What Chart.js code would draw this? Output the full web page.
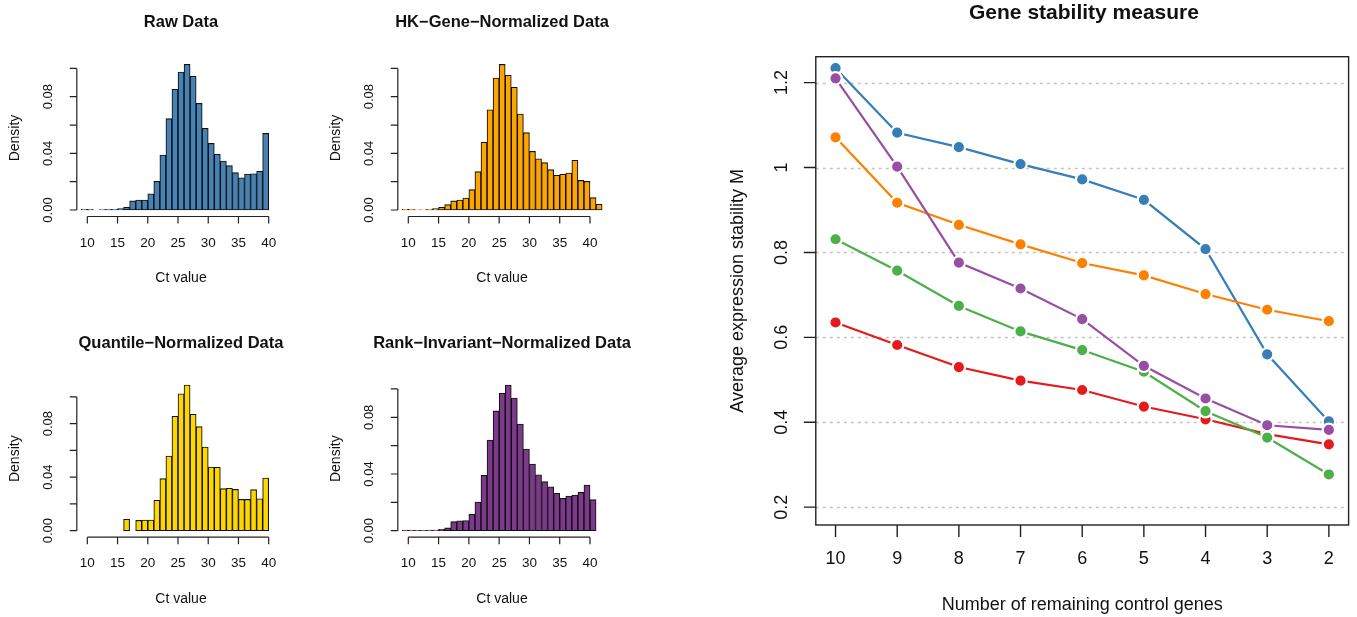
<!DOCTYPE html>
<html>
<head>
<meta charset="utf-8">
<script src="https://cdn.jsdelivr.net/npm/chart.js@4.4.0/dist/chart.umd.min.js"></script>
<style>
  body { margin: 0; background: #fff; }
  #wrap { position: relative; width: 1357px; height: 617px; }
  #wrap canvas { position: absolute; left: 0; top: 0; }
</style>
</head>
<body>
<div id="wrap">
  <canvas id="raw" width="1357" height="617"></canvas>
  <canvas id="hk" width="1357" height="617"></canvas>
  <canvas id="quant" width="1357" height="617"></canvas>
  <canvas id="rank" width="1357" height="617"></canvas>
  <canvas id="stab" width="1357" height="617"></canvas>
</div>
<script>
// histogram data, one bin per Ct unit, first value = bin starting at *Start
const rawStart = 9;
const rawDensity = [0.0005, 0.0005, 0, 0.0003, 0.0005, 0.0005, 0.001, 0.002, 0.0064, 0.007,
  0.007, 0.0115, 0.0202, 0.0388, 0.0645, 0.0852, 0.0974, 0.1028, 0.0944, 0.0753,
  0.0576, 0.047, 0.0393, 0.0346, 0.0313, 0.0264, 0.0228, 0.0254, 0.0256, 0.0273, 0.0541];

const hkStart = 9;
const hkDensity = [0.0005, 0.0005, 0.0002, 0.0002, 0.0005, 0.001, 0.002, 0.0038, 0.0064, 0.007,
  0.0085, 0.0144, 0.0271, 0.0478, 0.0708, 0.0932, 0.1028, 0.0951, 0.0866, 0.0678,
  0.0546, 0.0414, 0.0362, 0.0334, 0.0285, 0.0245, 0.0252, 0.0261, 0.0351, 0.0209,
  0.0202, 0.0087, 0.004];

const quantStart = 16;
const quantDensity = [0.0085, 0, 0.0077, 0.008, 0.008, 0.0227, 0.0389, 0.0558, 0.0855, 0.1024,
  0.1089, 0.087, 0.0778, 0.0626, 0.0476, 0.0474, 0.0314, 0.0317, 0.0309, 0.0234,
  0.0234, 0.0307, 0.0239, 0.0394];

const rankStart = 9;
const rankDensity = [0.0005, 0.0005, 0.0002, 0.0002, 0.0005, 0.0005, 0.001, 0.002, 0.0064, 0.007,
  0.0072, 0.0115, 0.0202, 0.039, 0.064, 0.0845, 0.097, 0.1028, 0.0936, 0.0753,
  0.0576, 0.047, 0.0395, 0.0346, 0.031, 0.0264, 0.0228, 0.0245, 0.0252, 0.027,
  0.0322, 0.0219];

const ctTicks = [10, 15, 20, 25, 30, 35, 40];
const densityTicks = [0, 0.02, 0.04, 0.06, 0.08, 0.1];
const densityLabels = ["0.00", "", "0.04", "", "0.08", ""];

// gene stability measure
const remainingGenes = [10, 9, 8, 7, 6, 5, 4, 3, 2];
const stabBlue = [1.234, 1.082, 1.048, 1.008, 0.972, 0.924, 0.808, 0.560, 0.402];
const stabOrange = [1.071, 0.917, 0.865, 0.819, 0.775, 0.746, 0.702, 0.665, 0.638];
const stabPurple = [1.210, 1.002, 0.776, 0.715, 0.643, 0.533, 0.456, 0.393, 0.382];
const stabGreen = [0.831, 0.757, 0.674, 0.614, 0.570, 0.519, 0.426, 0.364, 0.277];
const stabRed = [0.635, 0.582, 0.530, 0.498, 0.476, 0.437, 0.407, 0.372, 0.348];
const stabTicks = [0.2, 0.4, 0.6, 0.8, 1, 1.2];
const stabTickLabels = ["0.2", "0.4", "0.6", "0.8", "1", "1.2"];

const W = 1357, H = 617;
const FONT = '"Liberation Sans", Arial, Helvetica, sans-serif';
Chart.defaults.font.family = FONT;

// R style axes for the histograms
const histAxes = {
  id: "histAxes",
  afterDraw(chart, args, o) {
    const ctx = chart.ctx;
    const xs = chart.scales.x, ys = chart.scales.y;
    const x10 = xs.getPixelForValue(10), x40 = xs.getPixelForValue(40);
    const y0 = ys.getPixelForValue(0);
    const ax = x10 - 10.5;
    const ay = y0 + 6.5;
    const cx = x10 + 93.7;
    ctx.save();
    ctx.strokeStyle = "#222";
    ctx.fillStyle = "#111";
    ctx.lineWidth = 1.2;
    // y axis
    ctx.beginPath();
    ctx.moveTo(ax, y0);
    ctx.lineTo(ax, ys.getPixelForValue(densityTicks[densityTicks.length - 1]));
    densityTicks.forEach((t) => {
      const y = ys.getPixelForValue(t);
      ctx.moveTo(ax, y);
      ctx.lineTo(ax - 7, y);
    });
    // x axis
    ctx.moveTo(x10, ay);
    ctx.lineTo(x40, ay);
    ctTicks.forEach((t) => {
      const x = xs.getPixelForValue(t);
      ctx.moveTo(x, ay);
      ctx.lineTo(x, ay + 7);
    });
    ctx.stroke();

    ctx.font = "13.5px " + FONT;
    ctx.textAlign = "center";
    ctx.textBaseline = "middle";
    ctTicks.forEach((t) => {
      ctx.fillText(String(t), xs.getPixelForValue(t), ay + 26.5);
    });
    ctx.font = "13px " + FONT;
    densityTicks.forEach((t, i) => {
      if (!densityLabels[i]) return;
      ctx.save();
      ctx.translate(ax - 28, ys.getPixelForValue(t));
      ctx.rotate(-Math.PI / 2);
      ctx.fillText(densityLabels[i], 0, 0);
      ctx.restore();
    });

    ctx.font = "14px " + FONT;
    ctx.fillText("Ct value", cx, y0 + 68);
    ctx.save();
    ctx.translate(ax - 62, y0 - 72);
    ctx.rotate(-Math.PI / 2);
    ctx.fillText("Density", 0, 0);
    ctx.restore();

    ctx.font = "bold 16.5px " + FONT;
    ctx.fillText(o.title, cx, y0 - 187.5);
    ctx.restore();
  },
};

function histogram(id, start, density, color, title, px10, px40, py0, py08) {
  const u = (px40 - px10) / 30;
  const k = (py0 - py08) / 0.08;
  const xMin = 8, xMax = 43, yMax = 0.12;
  const left = px10 - (10 - xMin) * u;
  const right = px40 + (xMax - 40) * u;
  const top = py0 - yMax * k;
  return new Chart(document.getElementById(id), {
    type: "bar",
    data: {
      datasets: [
        {
          data: density.map((d, i) => ({ x: start + i + 0.5, y: d })),
          backgroundColor: color,
          borderColor: "#111",
          borderWidth: 1.1,
          borderSkipped: false,
          barPercentage: 1,
          categoryPercentage: 1,
          clip: false,
        },
      ],
    },
    options: {
      responsive: false,
      animation: false,
      events: [],
      layout: { padding: { left: left, right: W - right, top: top, bottom: H - py0 } },
      plugins: { legend: { display: false }, tooltip: { enabled: false }, histAxes: { title: title } },
      scales: {
        x: { type: "linear", min: xMin, max: xMax, offset: false, display: false },
        y: { min: 0, max: yMax, display: false },
      },
    },
    plugins: [histAxes],
  });
}

histogram("raw", rawStart, rawDensity, "#4682B4", "Raw Data", 87.3, 268.7, 210, 96.7);
histogram("hk", hkStart, hkDensity, "#FFA500", "HK\u2212Gene\u2212Normalized Data", 408.3, 590, 210, 96.7);
histogram("quant", quantStart, quantDensity, "#FFD700", "Quantile\u2212Normalized Data", 87.3, 268.7, 530.7, 423.7);
histogram("rank", rankStart, rankDensity, "#7D3A8C", "Rank\u2212Invariant\u2212Normalized Data", 408.3, 590, 530.7, 417.3);

// gene stability panel
const stabBox = { left: 815.8, right: 1354, top: 56.7, bottom: 525 };

const stabAxes = {
  id: "stabAxes",
  beforeDatasetsDraw(chart) {
    const ctx = chart.ctx, a = chart.chartArea, ys = chart.scales.y;
    ctx.save();
    ctx.strokeStyle = "#c4c4c4";
    ctx.lineWidth = 1.3;
    ctx.setLineDash([3, 4]);
    stabTicks.forEach((t) => {
      const y = Math.round(ys.getPixelForValue(t)) + 0.5;
      ctx.beginPath();
      ctx.moveTo(a.left, y);
      ctx.lineTo(a.right, y);
      ctx.stroke();
    });
    ctx.restore();
  },
  afterDraw(chart) {
    const ctx = chart.ctx, a = chart.chartArea;
    const xs = chart.scales.x, ys = chart.scales.y;
    ctx.save();
    ctx.strokeStyle = "#222";
    ctx.fillStyle = "#111";
    ctx.lineWidth = 1.4;
    ctx.strokeRect(a.left, a.top, a.right - a.left, a.bottom - a.top);
    ctx.beginPath();
    stabTicks.forEach((t) => {
      const y = ys.getPixelForValue(t);
      ctx.moveTo(a.left, y);
      ctx.lineTo(a.left - 12, y);
    });
    remainingGenes.forEach((g) => {
      const x = xs.getPixelForValue(g);
      ctx.moveTo(x, a.bottom);
      ctx.lineTo(x, a.bottom + 12);
    });
    ctx.stroke();

    ctx.font = "18px " + FONT;
    ctx.textAlign = "center";
    ctx.textBaseline = "middle";
    remainingGenes.forEach((g) => {
      ctx.fillText(String(g), xs.getPixelForValue(g), a.bottom + 34);
    });
    stabTicks.forEach((t, i) => {
      ctx.save();
      ctx.translate(782, ys.getPixelForValue(t));
      ctx.rotate(-Math.PI / 2);
      ctx.fillText(stabTickLabels[i], 0, 0);
      ctx.restore();
    });
    ctx.fillText("Number of remaining control genes", (a.left + a.right) / 2, 605);
    ctx.save();
    ctx.translate(738, (a.top + a.bottom) / 2);
    ctx.rotate(-Math.PI / 2);
    ctx.fillText("Average expression stability M", 0, 0);
    ctx.restore();

    ctx.font = "bold 21px " + FONT;
    ctx.fillText("Gene stability measure", 1084, 13);
    ctx.restore();
  },
};

function stabSeries(values, color, order) {
  return {
    data: values.map((v, i) => ({ x: remainingGenes[i], y: v })),
    borderColor: color,
    backgroundColor: color,
    borderWidth: 2.2,
    pointRadius: 6.2,
    pointBorderColor: "#fff",
    pointBorderWidth: 2.2,
    pointBackgroundColor: color,
    tension: 0,
    order: order,
    clip: false,
  };
}

new Chart(document.getElementById("stab"), {
  type: "line",
  data: {
    datasets: [
      stabSeries(stabBlue, "#377EB8", 5),
      stabSeries(stabOrange, "#FF7F00", 4),
      stabSeries(stabRed, "#E41A1C", 3),
      stabSeries(stabGreen, "#4DAF4A", 2),
      stabSeries(stabPurple, "#984EA3", 1),
    ],
  },
  options: {
    responsive: false,
    animation: false,
    events: [],
    layout: {
      padding: {
        left: stabBox.left,
        right: W - stabBox.right,
        top: stabBox.top,
        bottom: H - stabBox.bottom,
      },
    },
    plugins: { legend: { display: false }, tooltip: { enabled: false } },
    scales: {
      x: { type: "linear", reverse: true, min: 1.68, max: 10.32, display: false },
      y: { min: 0.158, max: 1.261, display: false },
    },
  },
  plugins: [stabAxes],
});
</script>
</body>
</html>
